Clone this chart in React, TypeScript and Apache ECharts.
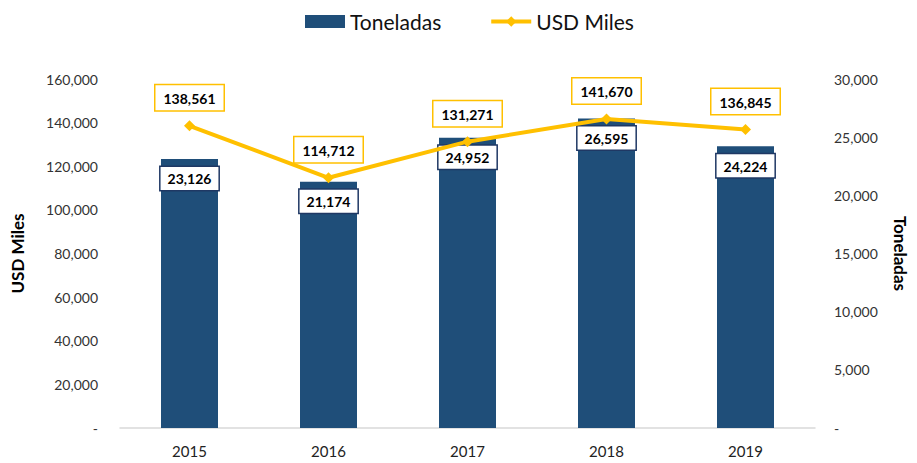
import React, { useEffect, useRef } from "react";
import * as echarts from "echarts";

const years = ["2015", "2016", "2017", "2018", "2019"];
const toneladas = [23126, 21174, 24952, 26595, 24224];
const usdMiles = [138561, 114712, 131271, 141670, 136845];

const FONT = "Lato, 'Open Sans', sans-serif";
const fmt = (v: number) => (v === 0 ? "-" : v.toLocaleString("en-US"));

export default function App() {
  const ref = useRef<HTMLDivElement>(null);
  useEffect(() => {
    if (!ref.current) return;
    const chart = echarts.init(ref.current, null, { renderer: "svg" });
    chart.setOption({
      animation: false,
      textStyle: { fontFamily: FONT },
      legend: {
        left: 300,
        top: 6,
        itemWidth: 40,
        itemHeight: 13,
        itemGap: 48,
        textStyle: { fontSize: 21, color: "#111", fontFamily: FONT },
        data: [
          { name: "Toneladas", icon: "rect" },
          { name: "USD Miles", lineStyle: { width: 4 } },
        ],
      },
      grid: { left: 120, right: 96, top: 79, bottom: 35 },
      xAxis: {
        type: "category",
        data: years,
        axisLine: { lineStyle: { color: "#d9d9d9", width: 1.5 } },
        axisTick: { show: false },
        axisLabel: { color: "#222", fontSize: 15, margin: 15, fontFamily: FONT },
      },
      yAxis: [
        {
          type: "value",
          min: 0,
          max: 160000,
          interval: 20000,
          position: "left",
          name: "USD Miles",
          nameLocation: "middle",
          nameGap: 94,
          nameTextStyle: { fontSize: 17, fontWeight: "bold", color: "#000", fontFamily: FONT },
          splitLine: { show: false },
          axisLine: { show: false },
          axisTick: { show: false },
          axisLabel: { color: "#333", fontSize: 14, margin: 22, formatter: (v: number) => fmt(v), fontFamily: FONT },
        },
        {
          type: "value",
          min: 0,
          max: 30000,
          interval: 5000,
          position: "right",
          name: "Toneladas",
          nameLocation: "middle",
          nameGap: 77,
          nameRotate: -90,
          nameTextStyle: { fontSize: 17, fontWeight: "bold", color: "#000", fontFamily: FONT },
          splitLine: { show: false },
          axisLine: { show: false },
          axisTick: { show: false },
          axisLabel: { color: "#333", fontSize: 14, margin: 19, formatter: (v: number) => fmt(v), fontFamily: FONT },
        },
      ],
      series: [
        {
          name: "Toneladas",
          type: "bar",
          yAxisIndex: 1,
          data: toneladas,
          barWidth: 57,
          itemStyle: { color: "#1F4E79" },
          label: {
            show: true,
            position: "insideTop",
            distance: 8,
            formatter: (p: any) => fmt(p.value),
            color: "#000",
            fontWeight: "bold",
            fontSize: 14,
            fontFamily: FONT,
            backgroundColor: "#fff",
            borderColor: "#1F3864",
            borderWidth: 1.5,
            padding: [5, 7, 4, 7],
          },
          z: 2,
        },
        {
          name: "USD Miles",
          type: "line",
          yAxisIndex: 0,
          data: usdMiles,
          symbol: "diamond",
          symbolSize: 11,
          lineStyle: { color: "#FFC000", width: 4 },
          itemStyle: { color: "#FFC000" },
          label: {
            show: true,
            position: "top",
            distance: 10,
            formatter: (p: any) => fmt(p.value),
            color: "#000",
            fontWeight: "bold",
            fontSize: 14,
            fontFamily: FONT,
            backgroundColor: "#fff",
            borderColor: "#FFC000",
            borderWidth: 1.5,
            padding: [6, 8, 5, 8],
          },
          z: 3,
        },
      ],
    });
    return () => chart.dispose();
  }, []);
  return (
    <div
      ref={ref}
      style={{ position: "absolute", left: 0, top: 0, width: 917, height: 463 }}
    />
  );
}
